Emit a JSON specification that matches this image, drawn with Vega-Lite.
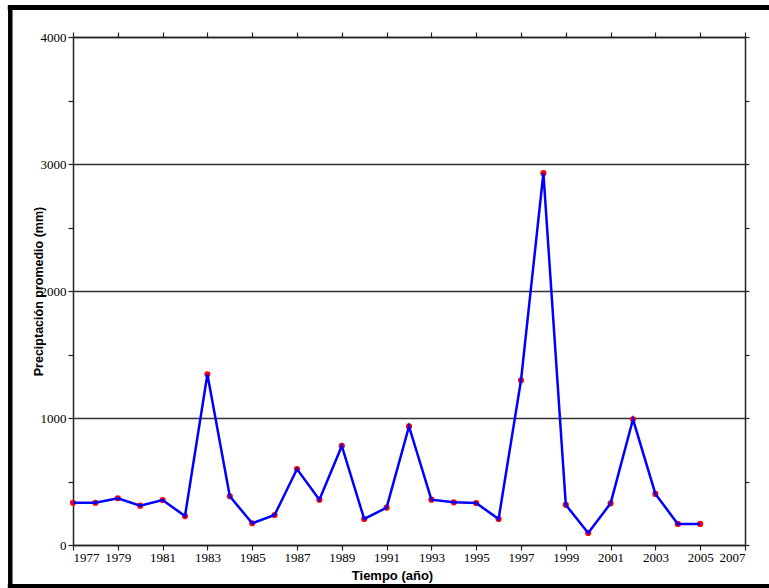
{
  "$schema": "https://vega.github.io/schema/vega-lite/v6.json",
  "width": 672,
  "height": 508,
  "autosize": {"type": "none"},
  "padding": {"left": 73, "top": 37, "right": 24, "bottom": 43},
  "background": "white",
  "config": {
    "view": {"stroke": null},
    "axis": {
      "labelFont": "Liberation Sans Narrow",
      "labelFontSize": 13,
      "labelColor": "black",
      "domainColor": "#222",
      "domainWidth": 1.5,
      "tickColor": "#222",
      "tickWidth": 1.2,
      "titleFont": "Liberation Sans",
      "titleFontWeight": "bold",
      "titleColor": "black"
    }
  },
  "data": {
    "values": [
      {"year": 1977, "precip": 333},
      {"year": 1978, "precip": 333},
      {"year": 1979, "precip": 368},
      {"year": 1980, "precip": 310},
      {"year": 1981, "precip": 354},
      {"year": 1982, "precip": 228},
      {"year": 1983, "precip": 1344},
      {"year": 1984, "precip": 384},
      {"year": 1985, "precip": 171},
      {"year": 1986, "precip": 236},
      {"year": 1987, "precip": 598},
      {"year": 1988, "precip": 357},
      {"year": 1989, "precip": 780},
      {"year": 1990, "precip": 205},
      {"year": 1991, "precip": 294},
      {"year": 1992, "precip": 934},
      {"year": 1993, "precip": 357},
      {"year": 1994, "precip": 336},
      {"year": 1995, "precip": 330},
      {"year": 1996, "precip": 205},
      {"year": 1997, "precip": 1297},
      {"year": 1998, "precip": 2928},
      {"year": 1999, "precip": 316},
      {"year": 2000, "precip": 95},
      {"year": 2001, "precip": 328},
      {"year": 2002, "precip": 990},
      {"year": 2003, "precip": 402},
      {"year": 2004, "precip": 166},
      {"year": 2005, "precip": 166}
    ]
  },
  "layer": [
    {
      "data": {"values": [{}]},
      "mark": {"type": "rule", "clip": false, "color": "black", "strokeWidth": 4.5, "strokeCap": "square"},
      "encoding": {
        "x": {"datum": 1974.2, "type": "quantitative", "scale": {"domain": [1977, 2007]}, "axis": null},
        "y": {"datum": -327, "type": "quantitative", "scale": {"domain": [0, 4000]}, "axis": null},
        "y2": {"datum": 4232}
      }
    },
    {
      "data": {"values": [{}]},
      "mark": {"type": "rule", "clip": false, "color": "black", "strokeWidth": 5, "strokeCap": "square"},
      "encoding": {
        "x": {"datum": 1974.2, "type": "quantitative", "scale": {"domain": [1977, 2007]}, "axis": null},
        "x2": {"datum": 2008.3},
        "y": {"datum": 4232, "type": "quantitative", "scale": {"domain": [0, 4000]}, "axis": null}
      }
    },
    {
      "data": {"values": [{}]},
      "mark": {"type": "rule", "clip": false, "color": "black", "strokeWidth": 5, "strokeCap": "square"},
      "encoding": {
        "x": {"datum": 1974.2, "type": "quantitative", "scale": {"domain": [1977, 2007]}, "axis": null},
        "x2": {"datum": 2008.3},
        "y": {"datum": -327, "type": "quantitative", "scale": {"domain": [0, 4000]}, "axis": null}
      }
    },
    {
      "mark": {"type": "point", "filled": true, "color": "#FF0000", "size": 38, "opacity": 1},
      "encoding": {
        "x": {
          "field": "year", "type": "quantitative",
          "scale": {"domain": [1977, 2007], "nice": false, "zero": false},
          "axis": {
            "orient": "bottom",
            "values": [1977, 1979, 1981, 1983, 1985, 1987, 1989, 1991, 1993, 1995, 1997, 1999, 2001, 2003, 2005, 2007],
            "format": "d",
            "grid": false,
            "tickSize": 5,
            "labelPadding": 1,
            "title": "Tiempo (año)",
            "titleFontSize": 13,
            "titleX": 319,
            "titleY": 34,
            "titleBaseline": "alphabetic",
            "titleAlign": "center"
          }
        },
        "y": {
          "field": "precip", "type": "quantitative",
          "scale": {"domain": [0, 4000], "nice": false},
          "axis": {
            "orient": "left",
            "values": [0, 500, 1000, 1500, 2000, 2500, 3000, 3500, 4000],
            "format": "d",
            "labelExpr": "datum.value % 1000 === 0 ? datum.label : ''",
            "grid": true,
            "gridColor": "#333",
            "gridWidth": 1.5,
            "gridOpacity": {"condition": {"test": "datum.value % 1000 === 0", "value": 1}, "value": 0},
            "tickSize": 5,
            "labelPadding": 2,
            "title": "Preciptación promedio (mm)",
            "titleFontSize": 12.5,
            "titleAngle": 270,
            "titleX": -35,
            "titleY": 254,
            "titleAlign": "center",
            "titleBaseline": "middle"
          }
        }
      }
    },
    {
      "mark": {"type": "line", "color": "#0000FF", "strokeWidth": 2.5},
      "encoding": {
        "x": {
          "field": "year", "type": "quantitative",
          "scale": {"domain": [1977, 2007], "nice": false, "zero": false},
          "axis": {
            "orient": "top",
            "values": [1977, 1979, 1981, 1983, 1985, 1987, 1989, 1991, 1993, 1995, 1997, 1999, 2001, 2003, 2005, 2007],
            "labels": false,
            "grid": false,
            "tickSize": 5,
            "title": null
          }
        },
        "y": {
          "field": "precip", "type": "quantitative",
          "scale": {"domain": [0, 4000], "nice": false},
          "axis": {
            "orient": "right",
            "values": [0, 500, 1000, 1500, 2000, 2500, 3000, 3500, 4000],
            "labels": false,
            "grid": false,
            "tickSize": 4,
            "title": null
          }
        }
      }
    }
  ],
  "resolve": {"axis": {"x": "independent", "y": "independent"}}
}
